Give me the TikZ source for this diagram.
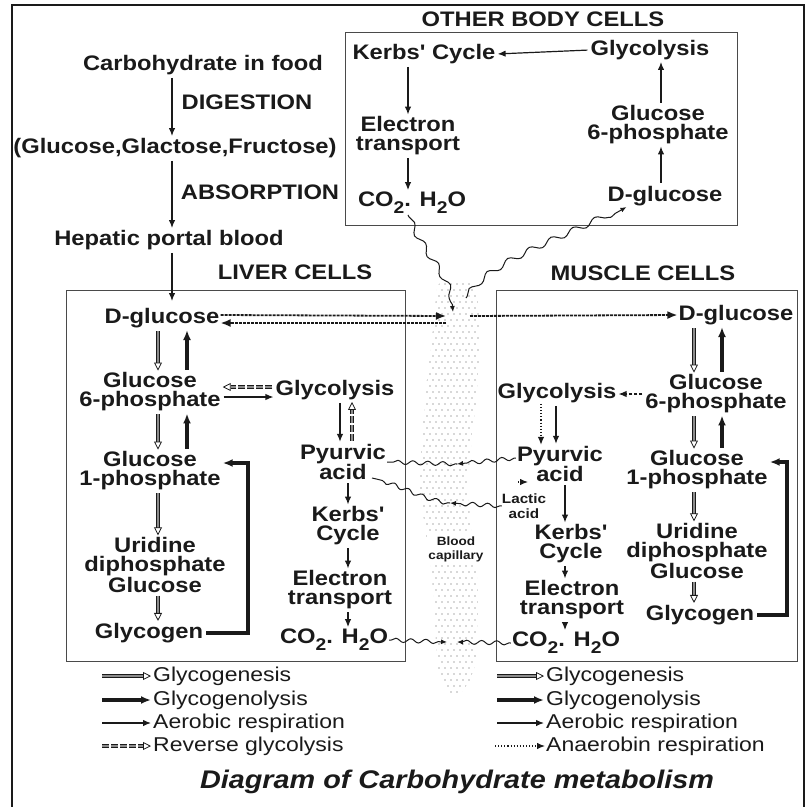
\documentclass[tikz,border=0pt]{standalone}
\usepackage{fontspec}
\newfontfamily\diafont{Liberation Sans}[FakeStretch=1.13]
\newfontfamily\legfont{Liberation Sans}
\usetikzlibrary{arrows.meta, positioning, decorations.pathmorphing}
\definecolor{ink}{HTML}{1A1A1A}
\definecolor{boxline}{HTML}{4A4A4A}
\definecolor{dotgray}{HTML}{5A5A5A}
\newcommand{\lowtwo}{\raisebox{-0.32em}{\fontsize{17}{17}\selectfont 2}}
\newcommand{\legtext}[1]{\scalebox{1.15}[1]{#1}}

\begin{document}
\begin{tikzpicture}[
  x=1pt, y=-1pt,
  lbl/.style={font=\diafont\bfseries\fontsize{21}{19}\selectfont, align=center,
              inner sep=1pt, text=ink},
  small/.style={lbl, inner sep=0pt, font=\diafont\bfseries\fontsize{13.5}{15}\selectfont},
  leg/.style={font=\legfont\fontsize{20}{20}\selectfont, anchor=west, inner sep=1pt, text=ink},
  cellbox/.style={draw=boxline, line width=1.2pt, anchor=north west, inner sep=0pt},
  aer/.style={-{Latex[length=8pt,width=6.5pt]}, draw=ink, line width=1.2pt,
              shorten <=2pt, shorten >=1pt},
  lysis/.style={-{Latex[length=10pt,width=8pt]}, draw=ink, line width=3.2pt,
              shorten <=2pt, shorten >=1pt},
  gen/.style={-{Triangle[open,length=8pt,width=8pt]}, draw=ink, line width=0.8pt,
              double=black!45, double distance=2.2pt, shorten <=2pt, shorten >=1pt},
  rev/.style={gen, dash pattern=on 7pt off 2pt},
  anaer/.style={-{Latex[length=8pt,width=6.5pt]}, draw=ink, line width=1.1pt, dotted},
  blood/.style={-{Latex[length=10pt,width=8pt]}, draw=ink, line width=1.8pt,
              dash pattern=on 3pt off 1pt},
  wave/.style={decorate, draw=ink, line width=1pt,
              decoration={snake, amplitude=2pt, segment length=15pt, pre length=2pt, post length=4pt}},
  wavetip/.style={wave, -{Latex[length=6pt,width=5pt]}},
  longwave/.style={wavetip, decoration={snake, amplitude=3pt, segment length=24pt, post length=6pt}}
]
\useasboundingbox (0,0) rectangle (807,807);
\fill[white] (0,0) rectangle (807,807);
\draw[ink, line width=2pt] (12,812) -- (12,5) -- (804,5) -- (804,812);

% blood capillary
\begin{scope}
\clip plot[smooth cycle] coordinates {(440,283) (436,300) (433,330) (427,380) (422,440)
  (420,480) (424,520) (430,560) (434,600) (436,640) (438,670) (448,692) (462,692)
  (474,670) (477,640) (478,600) (476,560) (470,520) (468,480) (472,440) (478,380)
  (480,330) (478,300) (470,283)};
\foreach \yy [count=\r] in {284,290,...,694} {
  \foreach \xx in {412,418,...,488} {
    \fill[dotgray] ({\xx+3*mod(\r,2)},\yy) circle (0.7pt);
  }
}
\end{scope}
\node[font=\diafont\bfseries\fontsize{12}{14}\selectfont, align=center, fill=white,
      inner sep=1.5pt, text=ink] (capl) at (456,549) {Blood\\capillary};
\coordinate (capglu) at (446,316);
\coordinate (caplow) at (446,323);
\coordinate (capright) at (470,316);
\coordinate (capco) at (453,312);
\coordinate (capout) at (466,298);
\coordinate (cappyr) at (457,464);
\coordinate (caplac) at (450,503);
\coordinate (capcoL) at (447,642);
\coordinate (capcoR) at (457,642);

% path of food
\coordinate (spine) at (172,0);
\node[lbl] (food) at (203,65) {Carbohydrate in food};
\node[lbl] (sugars) at (175,148) {(Glucose,Glactose,Fructose)};
\node[lbl] (portal) at (169,240) {Hepatic portal blood};
\node[lbl] (digest) at (247,102) {DIGESTION};
\node[lbl] (absorb) at (260,192) {ABSORPTION};
\draw[aer] (food.south -| spine) -- (sugars.north -| spine);
\draw[aer] (sugars.south -| spine) -- (portal.north -| spine);

% other body cells
\node[cellbox, minimum width=392pt, minimum height=193pt] (otherbox) at (345,32) {};
\node[lbl] (otherhd) at (543,19) {OTHER BODY CELLS};
\node[lbl] (okrb) at (424,54) {Kerbs' Cycle};
\node[lbl] (olys) at (650,50) {Glycolysis};
\node[lbl] (oelc) at (408,136) {Electron\\transport};
\node[lbl] (oco2) at (412,203) {CO\lowtwo. H\lowtwo O};
\node[lbl] (og6p) at (658,125) {Glucose\\6-phosphate};
\node[lbl] (oglu) at (665,196) {D-glucose};
\coordinate (ocol) at (661,0);
\draw[aer] (olys.west) -- (okrb.east);
\draw[aer] (okrb.south -| oelc.north) -- (oelc.north);
\draw[aer] (oelc.south) -- (oco2.north -| oelc.south);
\draw[aer] (oglu.north -| ocol) -- (og6p.south -| ocol);
\draw[aer] (og6p.north -| ocol) -- (olys.south -| ocol);
\draw[longwave] ([xshift=-4pt]oco2.south) .. controls (425,255) and (450,270) .. (capco);
\draw[longwave] (capout) .. controls (490,262) and (570,240) .. ([xshift=20pt]oglu.south west);

% liver cells
\node[cellbox, minimum width=339pt, minimum height=371pt] (liverbox) at (66,290) {};
\node[lbl] (liverhd) at (295,272) {LIVER CELLS};
\draw[aer] (portal.south -| spine) -- (liverbox.north -| spine) -- ++(0,12);
\node[lbl] (lglu) at (162,318) {D-glucose};
\node[lbl] (lg6p) at (150,392) {Glucose\\6-phosphate};
\node[lbl] (lg1p) at (150,471) {Glucose\\1-phosphate};
\node[lbl] (ludp) at (155,565) {Uridine\\diphosphate\\Glucose};
\node[lbl] (lgly) at (149,633) {Glycogen};
\node[lbl] (llys) at (335,390) {Glycolysis};
\node[lbl] (lpyr) at (343,462) {Pyurvic\\acid};
\node[lbl] (lkrb) at (348,526) {Kerbs'\\Cycle};
\node[lbl] (lelc) at (340,590) {Electron\\transport};
\node[lbl] (lco2) at (334,640) {CO\lowtwo. H\lowtwo O};
\coordinate (lcolA) at (158,0);
\coordinate (lcolB) at (187,0);
\coordinate (lcolC) at (340,0);
\coordinate (lcolD) at (352,0);
\coordinate (lcolE) at (348,0);
\coordinate (lloop) at (248,0);
\coordinate (lacidR) at (372,478);
\draw[gen] (lglu.south -| lcolA) -- (lg6p.north -| lcolA);
\draw[lysis] (lg6p.north -| lcolB) -- (lglu.south -| lcolB);
\draw[gen] (lg6p.south -| lcolA) -- (lg1p.north -| lcolA);
\draw[lysis] (lg1p.north -| lcolB) -- (lg6p.south -| lcolB);
\draw[gen] (lg1p.south -| lcolA) -- (ludp.north -| lcolA);
\draw[gen] (ludp.south -| lcolA) -- (lgly.north -| lcolA);
\draw[lysis] (lgly.east) -- (lgly.east -| lloop) |- ([yshift=8pt]lg1p.east);
\draw[rev] ([yshift=5pt]lg6p.east -| llys.west) -- ([yshift=5pt]lg6p.east);
\draw[aer] ([yshift=-5pt]lg6p.east) -- ([yshift=-5pt]lg6p.east -| llys.west);
\draw[aer] (llys.south -| lcolC) -- (lpyr.north -| lcolC);
\draw[rev] (lpyr.north -| lcolD) -- (llys.south -| lcolD);
\draw[aer] (lpyr.south -| lcolE) -- (lkrb.north -| lcolE);
\draw[aer] (lkrb.south -| lcolE) -- (lelc.north -| lcolE);
\draw[aer] (lelc.south -| lcolE) -- (lco2.north -| lcolE);
\draw[blood] ([yshift=3pt]lglu.east) -- (capglu);
\draw[blood] (caplow) -- ([yshift=-5pt]lglu.east);

% muscle cells
\node[cellbox, minimum width=301pt, minimum height=371pt] (musclebox) at (496,290) {};
\node[lbl] (musclehd) at (643,273) {MUSCLE CELLS};
\node[lbl] (mglu) at (736,315) {D-glucose};
\node[lbl] (mg6p) at (716,394) {Glucose\\6-phosphate};
\node[lbl] (mg1p) at (697,470) {Glucose\\1-phosphate};
\node[lbl] (mudp) at (697,551) {Uridine\\diphosphate\\Glucose};
\node[lbl] (mgly) at (700,615) {Glycogen};
\node[lbl] (mlys) at (557,393) {Glycolysis};
\node[lbl] (mpyr) at (560,464) {Pyurvic\\acid};
\node[small] (mlac) at (524,506) {Lactic\\acid};
\node[lbl] (mkrb) at (571,544) {Kerbs'\\Cycle};
\node[lbl] (melc) at (572,600) {Electron\\transport};
\node[lbl] (mco2) at (566,643) {CO\lowtwo. H\lowtwo O};
\coordinate (mcolA) at (694,0);
\coordinate (mcolB) at (722,0);
\coordinate (mcolC) at (541,0);
\coordinate (mcolD) at (556,0);
\coordinate (mcolE) at (565,0);
\coordinate (mloop) at (787,0);
\coordinate (mlacin) at (518,482);
\draw[blood] (capright) -- (mglu.west);
\draw[gen] (mglu.south -| mcolA) -- (mg6p.north -| mcolA);
\draw[lysis] (mg6p.north -| mcolB) -- (mglu.south -| mcolB);
\draw[gen] (mg6p.south -| mcolA) -- (mg1p.north -| mcolA);
\draw[lysis] (mg1p.north -| mcolB) -- (mg6p.south -| mcolB);
\draw[gen] (mg1p.south -| mcolA) -- (mudp.north -| mcolA);
\draw[gen] (mudp.south -| mcolA) -- (mgly.north -| mcolA);
\draw[lysis] (mgly.east) -- (mgly.east -| mloop) |- ([yshift=8pt]mg1p.east);
\draw[aer, densely dashed] (mg6p.west) -- (mg6p.west -| mlys.east);
\draw[anaer] (mlys.south -| mcolC) -- (mpyr.north -| mcolC);
\draw[aer] (mlys.south -| mcolD) -- (mpyr.north -| mcolD);
\draw[anaer] (mlacin) -- ++(10,0);
\draw[aer] (mpyr.south -| mcolE) -- (mkrb.north -| mcolE);
\draw[aer] (mkrb.south -| mcolE) -- (melc.north -| mcolE);
\draw[aer] (melc.south -| mcolE) -- (mco2.north -| mcolE);

% exchange with the blood
\draw[wavetip] ([yshift=6pt]mpyr.west) -- (cappyr);
\draw[wave] (cappyr) -- (lpyr.east);
\draw[wavetip] (mlac.west) -- (caplac);
\draw[wave] (caplac) .. controls (425,500) and (405,485) .. (lacidR);
\draw[wavetip] (lco2.east) -- (capcoL);
\draw[wavetip] (mco2.west) -- (capcoR);

% legend
\node[leg] (lgA) at (152,676) {\legtext{Glycogenesis}};
\node[leg] (lgB) at (152,700) {\legtext{Glycogenolysis}};
\node[leg] (lgC) at (152,723) {\legtext{Aerobic respiration}};
\node[leg] (lgD) at (152,746) {\legtext{Reverse glycolysis}};
\node[leg] (rgA) at (545,676) {\legtext{Glycogenesis}};
\node[leg] (rgB) at (545,700) {\legtext{Glycogenolysis}};
\node[leg] (rgC) at (545,723) {\legtext{Aerobic respiration}};
\node[leg] (rgD) at (545,746) {\legtext{Anaerobin respiration}};
\draw[gen] ([xshift=-52pt]lgA.west) -- (lgA.west);
\draw[lysis] ([xshift=-52pt]lgB.west) -- (lgB.west);
\draw[aer] ([xshift=-52pt]lgC.west) -- (lgC.west);
\draw[rev] ([xshift=-52pt]lgD.west) -- (lgD.west);
\draw[gen] ([xshift=-50pt]rgA.west) -- (rgA.west);
\draw[lysis] ([xshift=-50pt]rgB.west) -- (rgB.west);
\draw[aer] ([xshift=-50pt]rgC.west) -- (rgC.west);
\draw[anaer] ([xshift=-50pt]rgD.west) -- (rgD.west);

\node[font=\diafont\bfseries\itshape\fontsize{25.5}{26}\selectfont, text=ink] (title)
  at (457,782) {Diagram of Carbohydrate metabolism};
\end{tikzpicture}
\end{document}
